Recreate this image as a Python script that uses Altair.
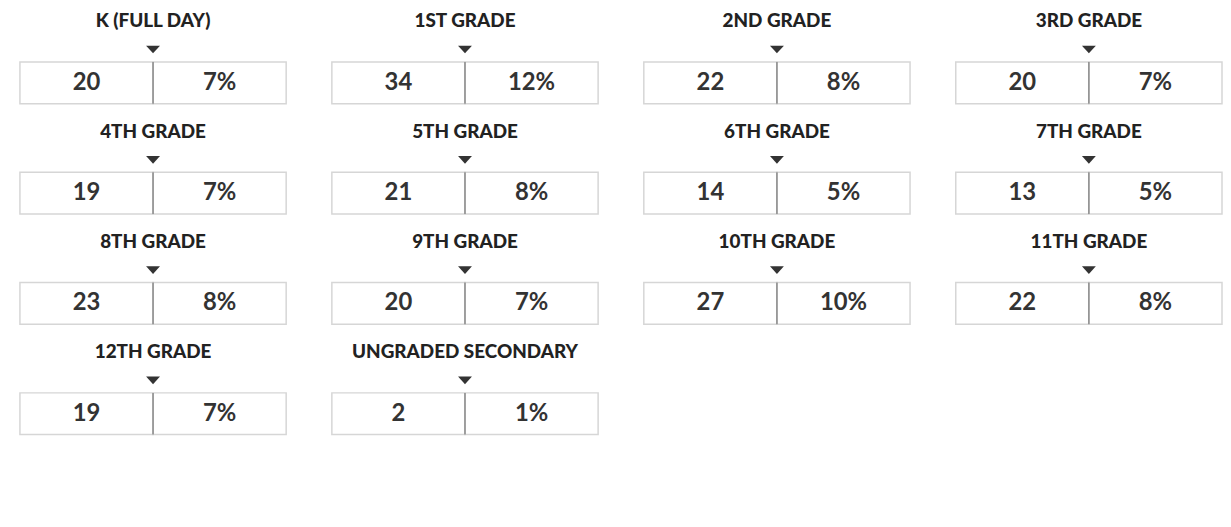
import altair as alt
import pandas as pd

grades = ["K (FULL DAY)", "1ST GRADE", "2ND GRADE", "3RD GRADE",
          "4TH GRADE", "5TH GRADE", "6TH GRADE", "7TH GRADE",
          "8TH GRADE", "9TH GRADE", "10TH GRADE", "11TH GRADE",
          "12TH GRADE", "UNGRADED SECONDARY"]
counts = [20, 34, 22, 20, 19, 21, 14, 13, 23, 20, 27, 22, 19, 2]
percents = [7, 12, 8, 7, 7, 8, 5, 5, 8, 7, 10, 8, 7, 1]

rows = []
for g, c, p in zip(grades, counts, percents):
    for cell, lab in enumerate([str(c), f"{p}%"]):
        rows.append({"grade": g, "cell": cell, "label": lab,
                     "x0": cell, "x1": cell + 1, "xc": cell + 0.5,
                     "mid": 1, "y0": 0, "y1": 1, "yc": 0.5, "ytri": 1.3})
df = pd.DataFrame(rows)

xs = alt.Scale(domain=[0, 2], nice=False, zero=False)
ys = alt.Scale(domain=[0, 1.5], nice=False, zero=False)

base = alt.Chart(df)

cells = base.mark_rect(fill="white", stroke="#d6d6d6", strokeWidth=1.5).encode(
    x=alt.X("x0:Q", scale=xs, axis=None),
    x2="x1:Q",
    y=alt.Y("y0:Q", scale=ys, axis=None),
    y2="y1:Q",
)

divider = base.transform_filter(alt.datum.cell == 0).mark_rule(
    color="#8a8a8a", strokeWidth=1.5
).encode(
    x=alt.X("mid:Q", scale=xs, axis=None),
    y=alt.Y("y0:Q", scale=ys, axis=None),
    y2="y1:Q",
)

texts = base.mark_text(font="Lato", fontSize=24, fontWeight="bold",
                       color="#333333").encode(
    x=alt.X("xc:Q", scale=xs, axis=None),
    y=alt.Y("yc:Q", scale=ys, axis=None),
    text="label:N",
)

tri = base.transform_filter(alt.datum.cell == 0).mark_point(
    shape="M -1 -0.55 L 1 -0.55 L 0 0.55 Z", size=196, filled=True,
    color="#333333", opacity=1
).encode(
    x=alt.X("mid:Q", scale=xs, axis=None),
    y=alt.Y("ytri:Q", scale=ys, axis=None),
)

layered = alt.layer(cells, divider, texts, tri).properties(width=268, height=63)

chart = layered.facet(
    facet=alt.Facet("grade:N", sort=grades,
                    header=alt.Header(title=None, labelFont="Lato",
                                      labelFontSize=19, labelFontWeight=900,
                                      labelColor="#222222", labelPadding=10)),
    columns=4,
    spacing={"row": 18, "column": 44},
).configure_view(stroke=None).properties(
    padding={"left": 11, "top": 3, "right": 0, "bottom": 0}
)

chart.save("out.html", embed_options={"renderer": "svg", "actions": False})
